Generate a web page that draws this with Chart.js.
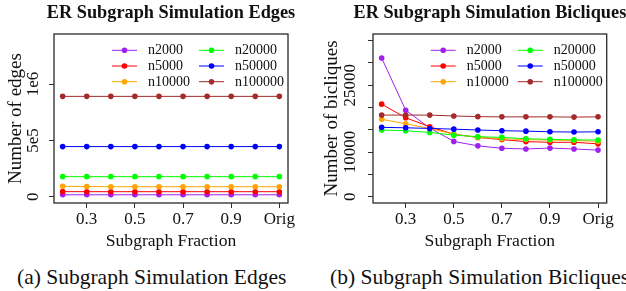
<!DOCTYPE html>
<html>
<head>
<meta charset="utf-8">
<script src="https://cdn.jsdelivr.net/npm/chart.js@4.4.0/dist/chart.umd.min.js"></script>
<style>
  html, body { margin: 0; padding: 0; background: #fff; }
  body { width: 626px; height: 291px; position: relative; overflow: hidden;
         font-family: "Liberation Serif", "Times New Roman", serif; }
  canvas { position: absolute; top: 0; }
  #edgesChart { left: 0; }
  #biclChart { left: 313px; }
  .caption { position: absolute; top: 267px; font-size: 21.5px; line-height: 1;
             white-space: nowrap; color: #111; }
</style>
</head>
<body>
<canvas id="edgesChart" width="313" height="260"></canvas>
<canvas id="biclChart" width="313" height="260"></canvas>
<div class="caption" style="left:17px">(a) Subgraph Simulation Edges</div>
<div class="caption" style="left:330px">(b) Subgraph Simulation Bicliques</div>
<script>
// categories on the x axis
const fractions = ['0.2', '0.3', '0.4', '0.5', '0.6', '0.7', '0.8', '0.9', '1.0', 'Orig'];
const shownFractions = [1, 3, 5, 7, 9]; // indices that get a tick label

const seriesNames = ['n2000', 'n5000', 'n10000', 'n20000', 'n50000', 'n100000'];
const seriesColors = ['#A020F0', '#FF0000', '#FFA500', '#00FF00', '#0000FF', '#A52A2A'];

// number of edges
const edgesN2000   = [17000, 17000, 17000, 17000, 17000, 17000, 17000, 17000, 17000, 17000];
const edgesN5000   = [45000, 44500, 44500, 44500, 44500, 44500, 44500, 44500, 44500, 44500];
const edgesN10000  = [92000, 90000, 89000, 89000, 89000, 89000, 89000, 89000, 89000, 89000];
const edgesN20000  = [178000, 178000, 178000, 178000, 178000, 178000, 178000, 178000, 178000, 178000];
const edgesN50000  = [445000, 445000, 445000, 445000, 445000, 445000, 445000, 445000, 445000, 445000];
const edgesN100000 = [891000, 891000, 891000, 891000, 891000, 891000, 891000, 891000, 891000, 891000];

// number of bicliques
const biclN2000   = [31100, 19400, 15400, 12400, 11400, 10850, 10700, 10900, 10700, 10450];
const biclN5000   = [20750, 17700, 15700, 14000, 13300, 12800, 12350, 12200, 12200, 11850];
const biclN10000  = [17350, 16350, 15300, 14000, 13300, 13000, 12800, 12700, 12600, 12400];
const biclN20000  = [14950, 14800, 14400, 13800, 13450, 13300, 13000, 12850, 12750, 12700];
const biclN50000  = [15550, 15450, 15300, 15150, 14950, 14800, 14700, 14550, 14500, 14550];
const biclN100000 = [18300, 18300, 18300, 18100, 17950, 17900, 17900, 17900, 17850, 17900];

// y tick positions and labels
const edgeTicks = [0, 500000, 1000000];
const edgeTickLabels = ['0', '5e5', '1e6'];
const biclTicks = [0, 5000, 10000, 15000, 20000, 25000, 30000, 35000];
const biclTickLabels = ['0', '', '10000', '', '', '25000', '', ''];

const serif = '"Liberation Serif", "Times New Roman", serif';

// box, title, rotated y labels and the in-plot legend
const panelPlugin = {
    id: 'panel',
    afterDraw(chart, args, opts) {
        const ctx = chart.ctx;
        const a = chart.chartArea;
        ctx.save();
        ctx.strokeStyle = '#2a2a2a';
        ctx.lineWidth = 1.3;
        ctx.strokeRect(a.left, a.top, a.right - a.left, a.bottom - a.top);

        ctx.fillStyle = '#111';
        ctx.font = 'bold 18.3px ' + serif;
        ctx.textAlign = 'center';
        ctx.textBaseline = 'alphabetic';
        ctx.fillText(opts.title, (a.left + a.right) / 2, 17.5);

        const ys = chart.scales.y;
        ctx.font = '17px ' + serif;
        ctx.textBaseline = 'middle';
        opts.tickValues.forEach((v, i) => {
            const lab = opts.tickLabels[i];
            if (!lab) return;
            ctx.save();
            ctx.translate(a.left - opts.labelGap, ys.getPixelForValue(v));
            ctx.rotate(-Math.PI / 2);
            ctx.fillText(lab, 0, 0);
            ctx.restore();
        });

        ctx.font = '14px ' + serif;
        ctx.textAlign = 'left';
        chart.data.datasets.forEach((ds, i) => {
            const col = Math.floor(i / 3), row = i % 3;
            const x0 = a.right - 176 + col * 87;
            const y = a.top + 16.3 + row * 15.7;
            ctx.strokeStyle = ds.borderColor;
            ctx.lineWidth = 1;
            ctx.beginPath();
            ctx.moveTo(x0, y);
            ctx.lineTo(x0 + 25, y);
            ctx.stroke();
            ctx.fillStyle = ds.borderColor;
            ctx.beginPath();
            ctx.arc(x0 + 12.5, y, 2.8, 0, Math.PI * 2);
            ctx.fill();
            ctx.fillStyle = '#111';
            ctx.fillText(ds.label, x0 + 36, y + 0.5);
        });
        ctx.restore();
    }
};

function makeDatasets(seriesList) {
    return seriesList.map((vals, i) => ({
        label: seriesNames[i],
        data: vals.map((v, j) => ({ x: j, y: v })),
        borderColor: seriesColors[i],
        backgroundColor: seriesColors[i],
        borderWidth: 1,
        pointRadius: 2.8,
        pointBorderWidth: 0,
        order: seriesList.length - i, // later series on top
        fill: false,
        tension: 0
    }));
}

function makeChart(id, cfg) {
    return new Chart(document.getElementById(id), {
        type: 'line',
        data: { datasets: makeDatasets(cfg.series) },
        plugins: [panelPlugin],
        options: {
            responsive: false,
            animation: false,
            events: [],
            devicePixelRatio: 1,
            layout: { padding: { left: 0, right: cfg.padRight, top: 34, bottom: 0 } },
            plugins: {
                legend: { display: false },
                tooltip: { enabled: false },
                panel: {
                    title: cfg.title,
                    tickValues: cfg.tickValues,
                    tickLabels: cfg.tickLabels,
                    labelGap: cfg.labelGap
                }
            },
            scales: {
                x: {
                    type: 'linear',
                    min: -0.36,
                    max: 9.36,
                    afterBuildTicks: (s) => { s.ticks = shownFractions.map(v => ({ value: v })); },
                    afterFit: (s) => { s.height = 57; },
                    ticks: {
                        autoSkip: false,
                        maxRotation: 0,
                        padding: 1.5,
                        color: '#111',
                        font: { family: serif, size: 17 },
                        callback: (v) => fractions[v]
                    },
                    grid: { drawOnChartArea: false, tickLength: 5, color: '#333' },
                    border: { display: false },
                    title: {
                        display: true,
                        text: 'Subgraph Fraction',
                        color: '#111',
                        font: { family: serif, size: 17.6 },
                        padding: { top: 0, bottom: 8.5 }
                    }
                },
                y: {
                    min: cfg.yMin,
                    max: cfg.yMax,
                    afterBuildTicks: (s) => { s.ticks = cfg.tickValues.map(v => ({ value: v })); },
                    afterFit: (s) => { s.width = cfg.axisWidth; },
                    ticks: { display: false },
                    grid: { drawOnChartArea: false, tickLength: 5, color: '#333' },
                    border: { display: false },
                    title: {
                        display: true,
                        text: cfg.yTitle,
                        color: '#111',
                        font: { family: serif, size: 19 },
                        padding: { top: cfg.titlePad, bottom: 0 }
                    }
                }
            }
        }
    });
}

makeChart('edgesChart', {
    title: 'ER Subgraph Simulation Edges',
    yTitle: 'Number of edges',
    series: [edgesN2000, edgesN5000, edgesN10000, edgesN20000, edgesN50000, edgesN100000],
    tickValues: edgeTicks,
    tickLabels: edgeTickLabels,
    yMin: -55950,
    yMax: 1444900,
    axisWidth: 54,
    padRight: 25,
    labelGap: 20,
    titlePad: 5
});

makeChart('biclChart', {
    title: 'ER Subgraph Simulation Bicliques',
    yTitle: 'Number of bicliques',
    series: [biclN2000, biclN5000, biclN10000, biclN20000, biclN50000, biclN100000],
    tickValues: biclTicks,
    tickLabels: biclTickLabels,
    yMin: -1412,
    yMax: 36480,
    axisWidth: 60,
    padRight: 19.3,
    labelGap: 22.5,
    titlePad: 7.5
});
</script>
</body>
</html>
